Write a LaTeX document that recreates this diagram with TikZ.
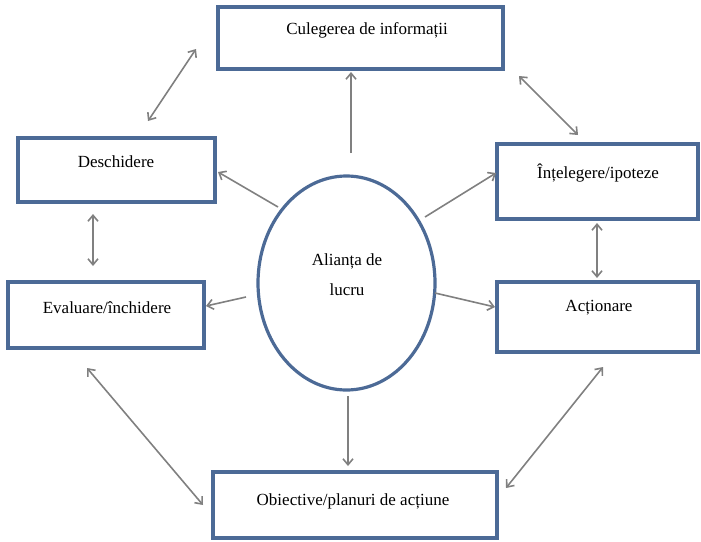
\documentclass[tikz,border=0pt]{standalone}
\usepackage{fontspec}
\setmainfont{Liberation Serif}
\usetikzlibrary{arrows.meta}
\definecolor{boxblue}{RGB}{76,106,150}
\definecolor{arrgray}{RGB}{128,128,128}
\tikzset{
  stagebox/.style={draw=boxblue, line width=3.2pt, fill=white, rectangle, inner sep=0pt},
  lab/.style={font=\fontsize{17}{30}\selectfont, inner sep=0pt, anchor=center, align=center},
  conn/.style={draw=arrgray, line width=1.6pt, -{Straight Barb[length=6pt,width=10pt]}},
  dconn/.style={draw=arrgray, line width=1.6pt, {Straight Barb[length=6pt,width=10pt]}-{Straight Barb[length=6pt,width=10pt]}}
}
\begin{document}
\begin{tikzpicture}[x=1pt,y=-1pt]
\useasboundingbox (0,0) rectangle (701,541);
% boxes
\node[stagebox, minimum width=285pt, minimum height=62pt] (cul) at (360.5,38) {};
\node[lab] (culT) at (367,30) {Culegerea de informații};
\node[stagebox, minimum width=197pt, minimum height=64pt] (des) at (116.5,170) {};
\node[lab] (desT) at (116,162) {Deschidere};
\node[stagebox, minimum width=201pt, minimum height=75pt] (int) at (597.5,181.5) {};
\node[lab] (intT) at (598,173) {Înțelegere/ipoteze};
\node[stagebox, minimum width=196pt, minimum height=66pt] (eva) at (106,315) {};
\node[lab] (evaT) at (107,308) {Evaluare/închidere};
\node[stagebox, minimum width=201pt, minimum height=70pt] (act) at (597.5,317) {};
\node[lab] (actT) at (599,308) {Acționare};
\node[stagebox, minimum width=284pt, minimum height=66pt] (obj) at (355,505) {};
\node[lab] (objT) at (353,501) {Obiective/planuri de acțiune};
% ellipse
\draw[boxblue, line width=3.2pt, fill=white] (346.5,283) ellipse [x radius=88.5, y radius=107];
\node[lab] (ali) at (347,275) {Alianța de\\lucru};
% connector end points
\coordinate (a1) at (351,153); \coordinate (b1) at (351,72);
\coordinate (a2) at (278,207); \coordinate (b2) at (218,172);
\coordinate (a3) at (425,217); \coordinate (b3) at (496,173);
\coordinate (a4) at (246,297); \coordinate (b4) at (206,306);
\coordinate (a5) at (435,293); \coordinate (b5) at (495,307);
\coordinate (a6) at (348,396); \coordinate (b6) at (348,466);
\coordinate (c1) at (148,121); \coordinate (d1) at (196,49);
\coordinate (c2) at (519,76);  \coordinate (d2) at (578,135);
\coordinate (c3) at (93,214);  \coordinate (d3) at (93,266);
\coordinate (c4) at (597,223); \coordinate (d4) at (597,278);
\coordinate (c5) at (87,368);  \coordinate (d5) at (203,505);
\coordinate (c6) at (603,367); \coordinate (d6) at (506,488);
% connectors
\draw[conn] (a1) -- (b1);
\draw[conn] (a2) -- (b2);
\draw[conn] (a3) -- (b3);
\draw[conn] (a4) -- (b4);
\draw[conn] (a5) -- (b5);
\draw[conn] (a6) -- (b6);
\draw[dconn] (c1) -- (d1);
\draw[dconn] (c2) -- (d2);
\draw[dconn] (c3) -- (d3);
\draw[dconn] (c4) -- (d4);
\draw[dconn] (c5) -- (d5);
\draw[dconn] (c6) -- (d6);
\end{tikzpicture}
\end{document}
